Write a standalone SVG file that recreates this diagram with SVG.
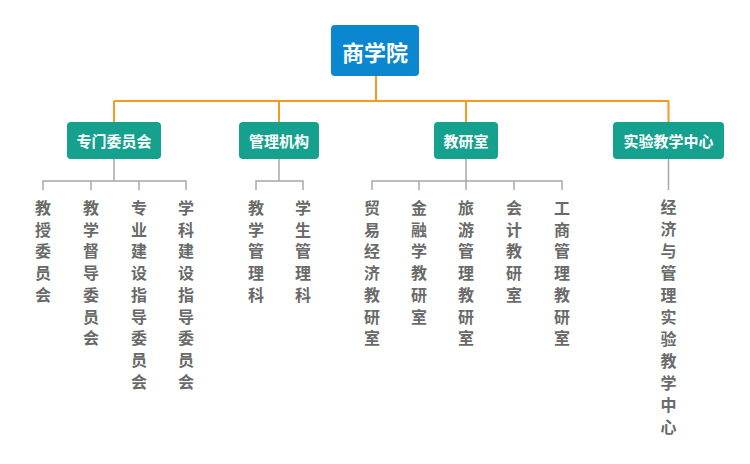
<svg xmlns="http://www.w3.org/2000/svg" width="750" height="464" viewBox="0 0 750 464">
<style>
.box2{fill:#16a08e}
.t1{font-family:"Noto Sans CJK SC","Liberation Sans",sans-serif;font-weight:bold;fill:#fff;font-size:22px;text-anchor:middle;dominant-baseline:central}
.t2{font-family:"Noto Sans CJK SC","Liberation Sans",sans-serif;font-weight:bold;fill:#fff;font-size:15px;text-anchor:middle;dominant-baseline:central}
.t3{font-family:"Noto Sans CJK SC","Liberation Sans",sans-serif;font-weight:bold;fill:#6a6a6a;font-size:16px;text-anchor:middle;dominant-baseline:central}
.or{stroke:#f39a20;stroke-width:2;fill:none}
.gr{stroke:#a8a8a8;stroke-width:1.5;fill:none}
</style>
<rect width="750" height="464" fill="#fff"/>
<g id="connectors">
<path class="or" d="M376 76V101M114 101H669M114 101V122M279 101V122M466 101V122M668.5 101V122"/>
<path class="gr" d="M114 159V181M43 190V181H186V190M91 181V190M139 181V190"/>
<path class="gr" d="M279 159V181M256 190V181H303V190"/>
<path class="gr" d="M466 159V190M372 190V181H562V190M419 181V190M514 181V190"/>
<path class="gr" d="M668.5 159V190"/>
</g>
<g id="n-root"><rect x="331" y="25" width="88" height="51" rx="4" fill="#0a87cf"/><text class="t1" x="375" y="51">商学院</text></g>
<g id="n-zmwyh"><rect class="box2" x="67" y="122" width="94" height="37" rx="4"/><text class="t2" x="114" y="140.5">专门委员会</text></g>
<g id="n-gljg"><rect class="box2" x="239" y="122" width="80" height="37" rx="4"/><text class="t2" x="279" y="140.5">管理机构</text></g>
<g id="n-jys"><rect class="box2" x="434" y="122" width="64" height="37" rx="4"/><text class="t2" x="466" y="140.5">教研室</text></g>
<g id="n-syjx"><rect class="box2" x="613" y="122" width="111" height="37" rx="4"/><text class="t2" x="668.5" y="140.5">实验教学中心</text></g>
<g id="n-c1"><text class="t3"><tspan x="43" y="207">教</tspan><tspan x="43" y="228.7">授</tspan><tspan x="43" y="250.4">委</tspan><tspan x="43" y="272.1">员</tspan><tspan x="43" y="293.8">会</tspan></text></g>
<g id="n-c2"><text class="t3"><tspan x="91" y="207">教</tspan><tspan x="91" y="228.7">学</tspan><tspan x="91" y="250.4">督</tspan><tspan x="91" y="272.1">导</tspan><tspan x="91" y="293.8">委</tspan><tspan x="91" y="315.5">员</tspan><tspan x="91" y="337.2">会</tspan></text></g>
<g id="n-c3"><text class="t3"><tspan x="139" y="207">专</tspan><tspan x="139" y="228.7">业</tspan><tspan x="139" y="250.4">建</tspan><tspan x="139" y="272.1">设</tspan><tspan x="139" y="293.8">指</tspan><tspan x="139" y="315.5">导</tspan><tspan x="139" y="337.2">委</tspan><tspan x="139" y="358.9">员</tspan><tspan x="139" y="380.6">会</tspan></text></g>
<g id="n-c4"><text class="t3"><tspan x="186" y="207">学</tspan><tspan x="186" y="228.7">科</tspan><tspan x="186" y="250.4">建</tspan><tspan x="186" y="272.1">设</tspan><tspan x="186" y="293.8">指</tspan><tspan x="186" y="315.5">导</tspan><tspan x="186" y="337.2">委</tspan><tspan x="186" y="358.9">员</tspan><tspan x="186" y="380.6">会</tspan></text></g>
<g id="n-c5"><text class="t3"><tspan x="256" y="207">教</tspan><tspan x="256" y="228.7">学</tspan><tspan x="256" y="250.4">管</tspan><tspan x="256" y="272.1">理</tspan><tspan x="256" y="293.8">科</tspan></text></g>
<g id="n-c6"><text class="t3"><tspan x="303" y="207">学</tspan><tspan x="303" y="228.7">生</tspan><tspan x="303" y="250.4">管</tspan><tspan x="303" y="272.1">理</tspan><tspan x="303" y="293.8">科</tspan></text></g>
<g id="n-c7"><text class="t3"><tspan x="372" y="207">贸</tspan><tspan x="372" y="228.7">易</tspan><tspan x="372" y="250.4">经</tspan><tspan x="372" y="272.1">济</tspan><tspan x="372" y="293.8">教</tspan><tspan x="372" y="315.5">研</tspan><tspan x="372" y="337.2">室</tspan></text></g>
<g id="n-c8"><text class="t3"><tspan x="419" y="207">金</tspan><tspan x="419" y="228.7">融</tspan><tspan x="419" y="250.4">学</tspan><tspan x="419" y="272.1">教</tspan><tspan x="419" y="293.8">研</tspan><tspan x="419" y="315.5">室</tspan></text></g>
<g id="n-c9"><text class="t3"><tspan x="466" y="207">旅</tspan><tspan x="466" y="228.7">游</tspan><tspan x="466" y="250.4">管</tspan><tspan x="466" y="272.1">理</tspan><tspan x="466" y="293.8">教</tspan><tspan x="466" y="315.5">研</tspan><tspan x="466" y="337.2">室</tspan></text></g>
<g id="n-c10"><text class="t3"><tspan x="514" y="207">会</tspan><tspan x="514" y="228.7">计</tspan><tspan x="514" y="250.4">教</tspan><tspan x="514" y="272.1">研</tspan><tspan x="514" y="293.8">室</tspan></text></g>
<g id="n-c11"><text class="t3"><tspan x="562" y="207">工</tspan><tspan x="562" y="228.7">商</tspan><tspan x="562" y="250.4">管</tspan><tspan x="562" y="272.1">理</tspan><tspan x="562" y="293.8">教</tspan><tspan x="562" y="315.5">研</tspan><tspan x="562" y="337.2">室</tspan></text></g>
<g id="n-c12"><text class="t3"><tspan x="668.5" y="206">经</tspan><tspan x="668.5" y="228">济</tspan><tspan x="668.5" y="250">与</tspan><tspan x="668.5" y="272">管</tspan><tspan x="668.5" y="294">理</tspan><tspan x="668.5" y="316">实</tspan><tspan x="668.5" y="338">验</tspan><tspan x="668.5" y="360">教</tspan><tspan x="668.5" y="382">学</tspan><tspan x="668.5" y="404">中</tspan><tspan x="668.5" y="426">心</tspan></text></g>
</svg>
